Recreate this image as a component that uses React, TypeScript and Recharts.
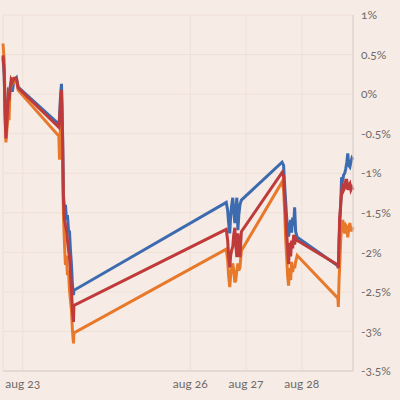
import { LineChart, Line, XAxis, YAxis, CartesianGrid } from "recharts";

// hours since aug 22 00:00 (sessions 15:30 - 22:00)
const hours = [
  15.5, 16.0, 16.5, 16.75, 17.75, 18.1, 18.5, 19.0, 19.5, 20.25, 21.25, 22.0,
  39.5, 39.8, 40.25, 40.65, 41.1, 41.5, 41.95, 42.35, 42.8, 43.2, 43.65, 44.1, 44.5, 44.95, 45.35, 45.8, 46.0,
  111.5, 112.1, 112.5, 113.0, 113.4, 113.85, 114.3, 114.7, 115.2, 115.6, 116.05, 116.5, 116.9, 117.4, 118.0,
  135.5, 136.15, 136.6, 137.0, 137.45, 137.9, 138.3, 138.75, 139.2, 139.6, 140.05, 140.5, 140.9, 141.35, 142.0,
  159.5, 159.7, 160.0, 160.25, 160.7, 161.1, 161.55, 162.0, 162.45, 162.9, 163.3, 163.75, 164.2, 164.65, 165.1, 165.55, 166.0,
];

const blue = [
  0.46, 0.24, -0.33, -0.48, 0.03, 0.01, 0.08, 0.15, 0.03, 0.18, 0.21, 0.09,
  -0.38, -0.3, -0.01, 0.13, -0.46, -1.28, -1.47, -1.4, -1.59, -1.53, -1.72, -1.74, -1.97, -2.16, -2.41, -2.54, -2.48,
  -1.37, -1.47, -1.62, -1.76, -1.53, -1.4, -1.31, -1.49, -1.63, -1.47, -1.31, -1.72, -1.53, -1.4, -1.34,
  -0.86, -0.9, -1.15, -1.34, -1.55, -1.7, -1.8, -1.68, -1.59, -1.75, -1.56, -1.66, -1.43, -1.74, -1.81,
  -2.17, -2.2, -1.85, -1.68, -1.4, -1.05, -1.09, -1.02, -1.0, -0.94, -0.87, -0.75, -0.9, -0.92, -0.86, -0.81, -0.83,
];

const red = [
  0.49, 0.3, -0.39, -0.56, -0.05, -0.08, 0.05, 0.18, 0.15, 0.2, 0.2, 0.08,
  -0.42, -0.33, -0.08, 0.05, -0.52, -1.34, -1.59, -1.66, -1.72, -1.85, -1.97, -2.07, -2.23, -2.48, -2.73, -2.88, -2.67,
  -1.71, -1.85, -2.04, -2.19, -2.04, -1.97, -1.93, -1.78, -1.69, -1.91, -2.06, -1.76, -1.91, -2.06, -1.74,
  -0.99, -1.04, -1.28, -1.5, -1.75, -1.95, -2.15, -1.88, -2.05, -1.85, -1.95, -1.78, -1.9, -1.82, -1.85,
  -2.16, -2.2, -1.91, -1.56, -1.4, -1.25, -1.13, -1.21, -1.18, -1.09, -1.09, -1.21, -1.15, -1.13, -1.21, -1.18, -1.21,
];

const orange = [
  0.64, 0.43, -0.27, -0.61, -0.23, -0.33, 0.05, 0.11, 0.21, 0.15, 0.18, 0.05,
  -0.53, -0.83, -0.33, -0.05, -0.83, -1.53, -1.91, -2.16, -2.04, -2.29, -2.23, -2.48, -2.6, -2.73, -2.98, -3.15, -3.02,
  -1.96, -2.1, -2.29, -2.44, -2.29, -2.2, -2.14, -2.23, -2.38, -2.35, -2.23, -2.14, -2.23, -2.19, -1.98,
  -1.11, -1.21, -1.47, -1.8, -2.05, -2.3, -2.42, -2.2, -2.35, -2.12, -2.25, -2.16, -2.2, -2.12, -2.04,
  -2.58, -2.69, -2.35, -2.19, -1.85, -1.68, -1.59, -1.69, -1.76, -1.66, -1.68, -1.81, -1.69, -1.63, -1.72, -1.72, -1.68,
];

const xTicks = [24, 96, 120, 144];
const xTickLabels = ["aug 23", "aug 26", "aug 27", "aug 28"];
const yTicks = [1, 0.5, 0, -0.5, -1, -1.5, -2, -2.5, -3, -3.5];
const yTickLabels = ["1%", "0.5%", "0%", "-0.5%", "-1%", "-1.5%", "-2%", "-2.5%", "-3%", "-3.5%"];

const rows = hours.map((h, i) => ({ h, blue: blue[i], red: red[i], orange: orange[i] }));

const tickStyle = { fill: "#6e6a68", fontSize: 12 };

export default function App() {
  return (
    <div
      style={{
        position: "absolute",
        left: 0,
        top: 0,
        width: 400,
        height: 400,
        background: "#f6ebe5",
        fontFamily: "Lato, sans-serif",
        fontVariantNumeric: "oldstyle-nums",
      }}
    >
      <LineChart width={400} height={400} data={rows} margin={{ top: 15, right: 0, bottom: 0, left: 3 }}>
        <CartesianGrid stroke="#efe0d6" strokeWidth={1} />
        <XAxis
          dataKey="h"
          type="number"
          domain={["dataMin", "dataMax"]}
          ticks={xTicks}
          tickFormatter={(v: number) => xTickLabels[xTicks.indexOf(v)]}
          tick={tickStyle}
          tickLine={false}
          axisLine={{ stroke: "#d9cec8" }}
          height={29}
        />
        <YAxis
          orientation="right"
          domain={[-3.5, 1]}
          ticks={yTicks}
          tickFormatter={(v: number) => yTickLabels[yTicks.indexOf(v)]}
          tick={{ ...tickStyle, textAnchor: "start" }}
          tickLine={false}
          axisLine={{ stroke: "#d9cec8" }}
          width={47}
          interval={0}
        />
        <Line type="linear" dataKey="blue" stroke="#3d6baf" strokeWidth={3} dot={false} isAnimationActive={false} />
        <Line type="linear" dataKey="orange" stroke="#e8792b" strokeWidth={3} dot={false} isAnimationActive={false} />
        <Line type="linear" dataKey="red" stroke="#bf3a3a" strokeWidth={3} dot={false} isAnimationActive={false} />
      </LineChart>
    </div>
  );
}
